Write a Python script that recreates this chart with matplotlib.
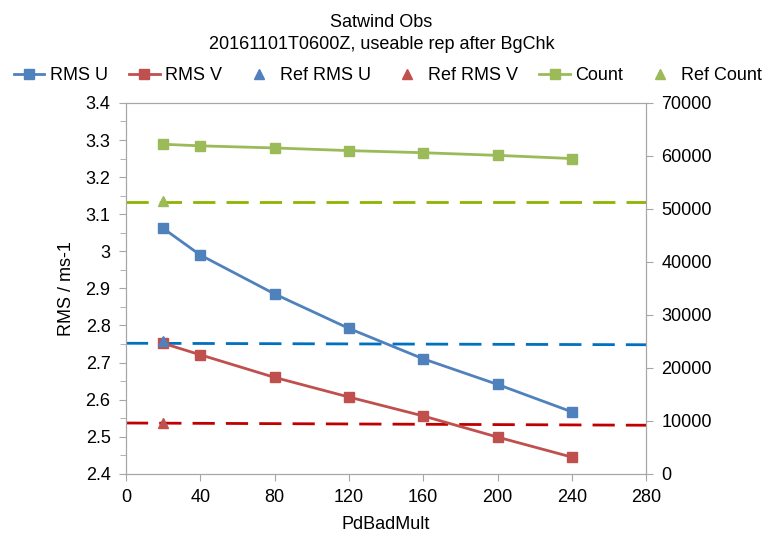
import matplotlib
matplotlib.use("Agg")
import matplotlib.pyplot as plt
from matplotlib.ticker import MultipleLocator

plt.rcParams['font.family'] = ['Liberation Sans', 'DejaVu Sans']

# data
pd_bad_mult = [20, 40, 80, 120, 160, 200, 240]
rms_u = [3.062, 2.990, 2.885, 2.792, 2.710, 2.641, 2.567]
rms_v = [2.752, 2.721, 2.660, 2.607, 2.556, 2.499, 2.445]
count = [62200, 61900, 61500, 61000, 60600, 60100, 59500]

ref_x = [20]
ref_rms_u = [2.757]
ref_rms_v = [2.538]
ref_count = [51500]

# dashed reference lines (start, end) across the x range
line_x = [0, 280]
ref_u_line = [2.752, 2.748]
ref_v_line = [2.537, 2.531]
ref_count_line = [51300, 51300]

grey = '#A6A6A6'
fs = 13

fig = plt.figure(figsize=(7.63, 5.36), dpi=100)
ax = fig.add_axes([0.165, 0.116, 0.682, 0.692])
ax2 = ax.twinx()

# dashed ref lines
dash = (0, (8, 4))
ax.plot(line_x, ref_u_line, color='#0070C0', lw=2, ls=dash, zorder=2)
ax.plot(line_x, ref_v_line, color='#C00000', lw=2, ls=dash, zorder=2)
ax2.plot(line_x, ref_count_line, color='#8DB400', lw=2, ls=dash, zorder=2)

l1, = ax.plot(pd_bad_mult, rms_u, color='#4F81BD', lw=2, marker='s', ms=7, label='RMS U')
l2, = ax.plot(pd_bad_mult, rms_v, color='#C0504D', lw=2, marker='s', ms=7, label='RMS V')
l3, = ax.plot(ref_x, ref_rms_u, color='#4F81BD', ls='none', marker='^', ms=7, label='Ref RMS U')
l4, = ax.plot(ref_x, ref_rms_v, color='#C0504D', ls='none', marker='^', ms=7, label='Ref RMS V')
l5, = ax2.plot(pd_bad_mult, count, color='#9BBB59', lw=2, marker='s', ms=7, label='Count')
l6, = ax2.plot(ref_x, ref_count, color='#9BBB59', ls='none', marker='^', ms=7, label='Ref Count')

ax.set_xlim(0, 280)
ax.set_ylim(2.4, 3.4)
ax2.set_ylim(0, 70000)
ax.xaxis.set_major_locator(MultipleLocator(40))
ax.yaxis.set_minor_locator(MultipleLocator(0.05))
ax2.yaxis.set_major_locator(MultipleLocator(10000))
ax.set_yticks([2.4, 2.5, 2.6, 2.7, 2.8, 2.9, 3.0, 3.1, 3.2, 3.3, 3.4])
ax.set_yticklabels(['2.4', '2.5', '2.6', '2.7', '2.8', '2.9', '3', '3.1', '3.2', '3.3', '3.4'])

for a in (ax, ax2):
    for s in a.spines.values():
        s.set_color(grey)
    a.tick_params(colors=grey, labelcolor='black', labelsize=fs, length=5, pad=6)
    a.tick_params(which='minor', colors=grey, length=4)

ax.set_xlabel('PdBadMult', fontsize=fs, labelpad=7)
ax.set_ylabel('RMS / ms-1', fontsize=fs, labelpad=8)

fig.suptitle('Satwind Obs\n20161101T0600Z, useable rep after BgChk', fontsize=fs, y=0.974,
             linespacing=1.4)

fig.legend(handles=[l1, l2, l3, l4, l5, l6], loc='center', bbox_to_anchor=(0.508, 0.859),
           ncol=6, frameon=False, fontsize=fs, handlelength=1.7, handletextpad=0.3,
           columnspacing=1.18)

fig.savefig('out.png', dpi=100)
